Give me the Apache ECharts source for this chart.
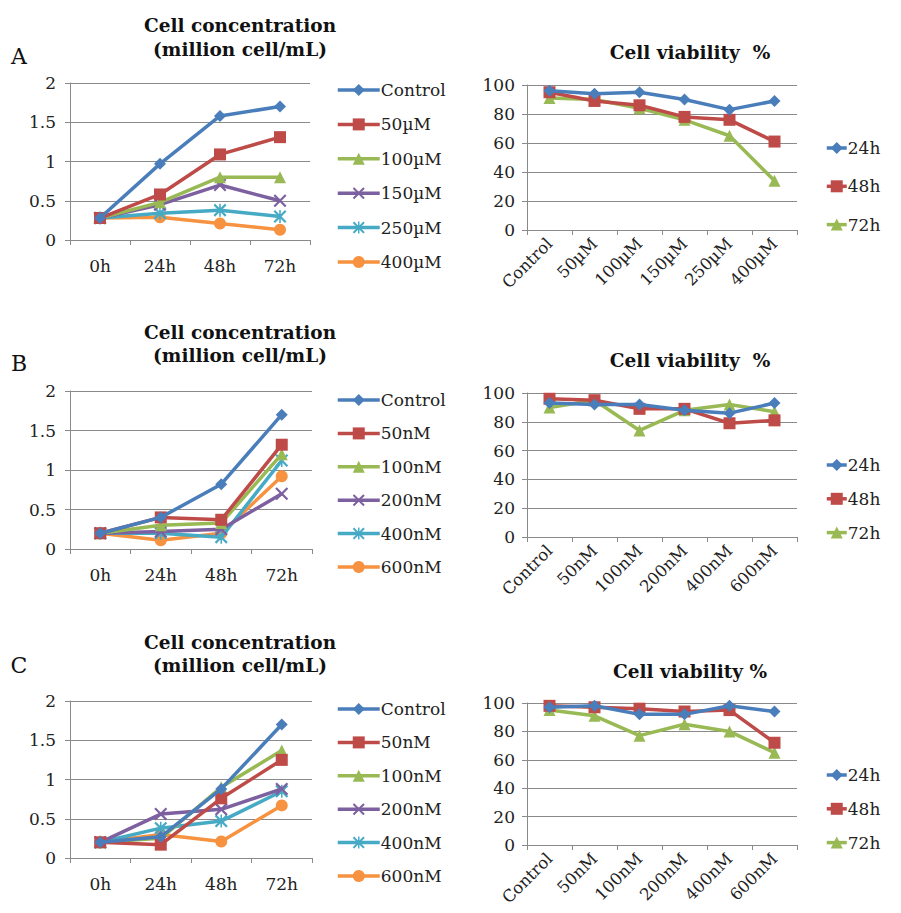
<!DOCTYPE html>
<html>
<head>
<meta charset="utf-8">
<script src="https://cdn.jsdelivr.net/npm/echarts@6/dist/echarts.min.js"></script>
<style>html,body{margin:0;padding:0;background:#fff}#c{width:901px;height:913px}</style>
</head>
<body>
<div id="c"></div>
<script>
// ---------- DATA ----------
const timeCats = ['0h', '24h', '48h', '72h'];
const viabilityHours = ['24h', '48h', '72h'];

const concNamesA = ['Control', '50µM', '100µM', '150µM', '250µM', '400µM'];
const concNamesBC = ['Control', '50nM', '100nM', '200nM', '400nM', '600nM'];

// Panel A – cell concentration (million cell/mL)
const concA_Control = [0.28, 0.97, 1.58, 1.70];
const concA_50 = [0.28, 0.58, 1.09, 1.31];
const concA_100 = [0.28, 0.48, 0.80, 0.80];
const concA_150 = [0.28, 0.45, 0.70, 0.50];
const concA_250 = [0.28, 0.34, 0.38, 0.30];
const concA_400 = [0.28, 0.29, 0.21, 0.13];
// Panel A – viability %
const viaA_24 = [96, 94, 95, 90, 83, 89];
const viaA_48 = [95, 89, 86, 78, 76, 61];
const viaA_72 = [91, 90, 84, 76, 65, 34];

// Panel B
const concB_Control = [0.20, 0.40, 0.82, 1.70];
const concB_50 = [0.20, 0.40, 0.37, 1.32];
const concB_100 = [0.20, 0.30, 0.33, 1.20];
const concB_200 = [0.20, 0.22, 0.25, 0.70];
const concB_400 = [0.20, 0.20, 0.15, 1.12];
const concB_600 = [0.20, 0.11, 0.20, 0.92];
const viaB_24 = [93, 92, 92, 88, 86, 93];
const viaB_48 = [96, 95, 89, 89, 79, 81];
const viaB_72 = [90, 95, 74, 88, 92, 87];

// Panel C
const concC_Control = [0.20, 0.27, 0.88, 1.70];
const concC_50 = [0.20, 0.17, 0.76, 1.25];
const concC_100 = [0.20, 0.25, 0.90, 1.37];
const concC_200 = [0.20, 0.56, 0.62, 0.88];
const concC_400 = [0.20, 0.38, 0.47, 0.85];
const concC_600 = [0.20, 0.30, 0.21, 0.67];
const viaC_24 = [97, 98, 92, 92, 98, 94];
const viaC_48 = [98, 97, 96, 94, 95, 72];
const viaC_72 = [95, 91, 77, 85, 80, 65];

const concTicks = [0, 0.5, 1, 1.5, 2];
const viaTicks = [0, 20, 40, 60, 80, 100];

// ---------- STYLE ----------
const colors = ['#4A7EBB', '#BE4B48', '#98B954', '#7D60A0', '#46AAC5', '#F69240'];
const xMark = 'path://M0,1.2L1.2,0L5,3.8L8.8,0L10,1.2L6.2,5L10,8.8L8.8,10L5,6.2L1.2,10L0,8.8L3.8,5Z';
const starMark = 'path://M0,1.2L1.2,0L5,3.8L8.8,0L10,1.2L6.2,5L10,8.8L8.8,10L5,6.2L1.2,10L0,8.8L3.8,5Z M4.4,0L5.6,0L5.6,10L4.4,10Z';
const symbols = ['diamond', 'rect', 'triangle', xMark, starMark, 'circle'];
const symSizes = [12, 12, 12, 13, 13, 12];
const FONT = 'DejaVu Serif';
const gridColor = '#8a8a8a';
const LBL = 17;

const grids = [
  {left: 70, top: 83, width: 240, height: 157},
  {left: 527, top: 85, width: 270, height: 145},
  {left: 70, top: 391, width: 242, height: 158},
  {left: 527, top: 393, width: 270, height: 144},
  {left: 70, top: 701, width: 242, height: 157},
  {left: 527, top: 703, width: 270, height: 142}
];

const xAxes = [], yAxes = [], series = [], legends = [];

function axisCommon() {
  return {
    axisLine: {show: true, lineStyle: {color: gridColor, width: 1}},
    axisTick: {show: true, length: 5, lineStyle: {color: gridColor}},
    splitLine: {show: false}
  };
}

function addConcPanel(gi, names, datas, legendTop, gap) {
  xAxes.push(Object.assign(axisCommon(), {
    gridIndex: gi, type: 'category', data: timeCats, boundaryGap: true,
    axisLabel: {fontFamily: FONT, fontSize: LBL, color: '#222', margin: 17}
  }));
  yAxes.push(Object.assign(axisCommon(), {
    gridIndex: gi, type: 'value', min: concTicks[0], max: concTicks[concTicks.length - 1],
    interval: concTicks[1] - concTicks[0],
    axisLabel: {fontFamily: FONT, fontSize: LBL, color: '#222', margin: 14},
    splitLine: {show: true, lineStyle: {color: gridColor, width: 1}}
  }));
  const idx = xAxes.length - 1;
  datas.forEach((d, i) => {
    series.push({
      type: 'line', name: names[i], data: d, xAxisIndex: idx, yAxisIndex: idx,
      symbol: symbols[i], symbolSize: symSizes[i], showAllSymbol: true,
      lineStyle: {width: 3.5, color: colors[i]},
      itemStyle: {color: colors[i]},
      emphasis: {disabled: true}, animation: false, z: 10 - i
    });
  });
  legends.push({
    data: names.slice(), orient: 'vertical', left: 336, top: legendTop, padding: 0,
    itemWidth: 42, itemHeight: 15, itemGap: gap,
    lineStyle: {width: 3.5},
    textStyle: {fontFamily: FONT, fontSize: LBL, color: '#222', padding: [0, 0, 0, -4]},
    selectedMode: false
  });
}

function addViaPanel(gi, cats, datas, legendTop, seriesPrefix, gap) {
  xAxes.push(Object.assign(axisCommon(), {
    gridIndex: gi, type: 'category', data: cats, boundaryGap: true,
    axisLabel: {fontFamily: FONT, fontSize: 16.5, color: '#222', rotate: 45, margin: 11, interval: 0}
  }));
  yAxes.push(Object.assign(axisCommon(), {
    gridIndex: gi, type: 'value', min: viaTicks[0], max: viaTicks[viaTicks.length - 1],
    interval: viaTicks[1] - viaTicks[0],
    axisLabel: {fontFamily: FONT, fontSize: LBL, color: '#222', margin: 12},
    splitLine: {show: true, lineStyle: {color: gridColor, width: 1}}
  }));
  const idx = xAxes.length - 1;
  const names = viabilityHours.map(h => h + seriesPrefix);
  datas.forEach((d, i) => {
    series.push({
      type: 'line', name: names[i], data: d, xAxisIndex: idx, yAxisIndex: idx,
      symbol: symbols[i], symbolSize: symSizes[i],
      lineStyle: {width: 3.5, color: colors[i]},
      itemStyle: {color: colors[i]},
      emphasis: {disabled: true}, animation: false, z: 10 - i
    });
  });
  legends.push({
    data: names, orient: 'vertical', left: 825, top: legendTop, padding: 0,
    itemWidth: 20, itemHeight: 15, itemGap: gap,
    lineStyle: {width: 3.5},
    textStyle: {fontFamily: FONT, fontSize: LBL, color: '#222', padding: [0, 0, 0, -4]},
    selectedMode: false
  });
}

addConcPanel(0, concNamesA, [concA_Control, concA_50, concA_100, concA_150, concA_250, concA_400], 81.5, 17.4);
addViaPanel(1, concNamesA, [viaA_24, viaA_48, viaA_72], 139.5, '', 21.3);
addConcPanel(2, concNamesBC.map(n => n + '\u200b'), [concB_Control, concB_50, concB_100, concB_200, concB_400, concB_600], 391.5, 16.4);
addViaPanel(3, concNamesBC, [viaB_24, viaB_48, viaB_72], 456.5, '\u200b', 16.8);
addConcPanel(4, concNamesBC.map(n => n + '\u200b\u200b'), [concC_Control, concC_50, concC_100, concC_200, concC_400, concC_600], 700.5, 16.4);
addViaPanel(5, concNamesBC, [viaC_24, viaC_48, viaC_72], 766.5, '\u200b\u200b', 16.8);
legends.forEach(l => { l.formatter = n => n.replace(/\u200b+/g, ''); });

function txt(x, y, s, size, bold) {
  return {type: 'text', x: x, y: y, silent: true,
    style: {text: s, fontFamily: FONT, fontSize: size, fontWeight: bold ? 'bold' : 'normal',
      fill: '#111', textAlign: 'center', textVerticalAlign: 'middle'}};
}

const TS = 18.5;
const graphics = [
  txt(19, 56, 'A', 22, false),
  txt(240, 25, 'Cell concentration', TS, true),
  txt(240, 49, '(million cell/mL)', TS, true),
  txt(690, 52, 'Cell viability  %', TS, true),

  txt(19, 363, 'B', 22, false),
  txt(240, 332, 'Cell concentration', TS, true),
  txt(240, 355, '(million cell/mL)', TS, true),
  txt(690, 360, 'Cell viability  %', TS, true),

  txt(19, 665, 'C', 22, false),
  txt(240, 642, 'Cell concentration', TS, true),
  txt(240, 665, '(million cell/mL)', TS, true),
  txt(690, 671, 'Cell viability %', TS, true)
];

const chart = echarts.init(document.getElementById('c'), null, {renderer: 'svg'});
chart.setOption({
  backgroundColor: '#fff',
  animation: false,
  grid: grids,
  xAxis: xAxes,
  yAxis: yAxes,
  legend: legends,
  series: series,
  graphic: graphics
});
</script>
</body>
</html>
